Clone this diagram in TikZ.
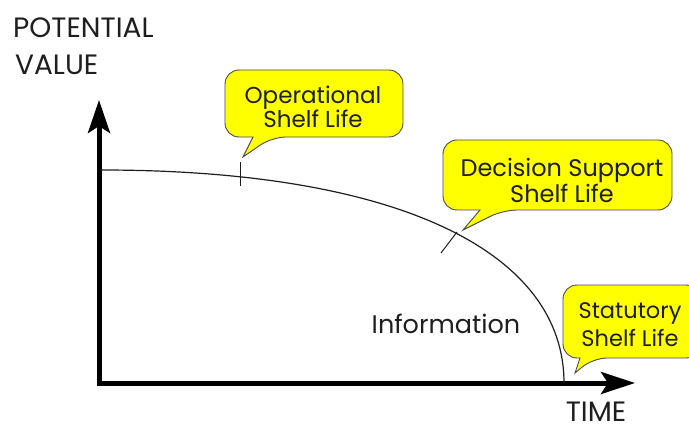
\documentclass[tikz,border=0pt]{standalone}
\usepackage{fontspec}
\setmainfont{Poppins}
\usetikzlibrary{arrows.meta}
\definecolor{bubble}{RGB}{255,255,0}
\definecolor{ink}{RGB}{30,30,30}
\begin{document}
\begin{tikzpicture}[x=1pt,y=1pt,
  axis/.style={line width=5pt, line join=miter, black,
    {Stealth[length=33pt,width=22pt,inset=7pt]}-{Stealth[length=34pt,width=22pt,inset=7pt]}},
  curve/.style={line width=1.2pt, ink},
  tickmark/.style={line width=1pt, ink},
  callout/.style={fill=bubble, draw=ink!80, line width=0.9pt},
  calltext/.style={align=center, inner sep=0pt, text=ink},
  axislabel/.style={font=\fontsize{28}{30}\selectfont, inner sep=0pt, text=ink}]
\useasboundingbox (0,0) rectangle (689,432);
\clip (0,0) rectangle (689,432);

% axes
\coordinate (ytip) at (99,332);
\coordinate (xtip) at (635,49);
\draw[axis] (ytip) |- (xtip);

% value curve
\coordinate (cstart) at (101,262);
\coordinate (cend) at (564,49);
\draw[curve] (cstart) .. controls (401,262) and (564,179) .. (cend);

% shelf-life marks on the curve
\coordinate (t1a) at (240,246);
\coordinate (t1b) at (240,270);
\coordinate (t2a) at (441,179);
\coordinate (t2b) at (457,200);
\draw[tickmark] (t1a) -- (t1b);
\draw[tickmark] (t2a) -- (t2b);

% speech bubbles
\draw[callout] (314,362) [rounded corners=14pt] -| (403,295) -- (272,295)
  [sharp corners] -- (243,275) -- (253,295) [rounded corners=14pt] -| (225,362) -- cycle;
\draw[callout] (560,292) [rounded corners=14pt] -| (672,222) -- (503,222)
  [sharp corners] -- (463,202) -- (480,222) [rounded corners=14pt] -| (443,292) -- cycle;
\draw[callout] (630,147) [rounded corners=14pt] -| (700,74) -- (593,74)
  [sharp corners] -- (575,59) -- (580,74) [rounded corners=14pt] -| (563,147) -- cycle;

\node[calltext, font=\fontsize{23}{23}\selectfont] (op) at (313,325) {Operational\\Shelf Life};
\node[calltext, font=\fontsize{24}{26}\selectfont] (ds) at (562,252) {Decision Support\\Shelf Life};
\node[calltext, font=\fontsize{22.5}{28}\selectfont] (st) at (630,107) {Statutory\\Shelf Life};

% labels
\node[axislabel, anchor=west] (pv1) at (13,404) {POTENTIAL};
\node[axislabel, anchor=west] (pv2) at (15,367) {VALUE};
\node[axislabel] (time) at (596,20) {TIME};
\node[axislabel, font=\fontsize{25.5}{28}\selectfont] (info) at (446,108) {Information};
\end{tikzpicture}
\end{document}
